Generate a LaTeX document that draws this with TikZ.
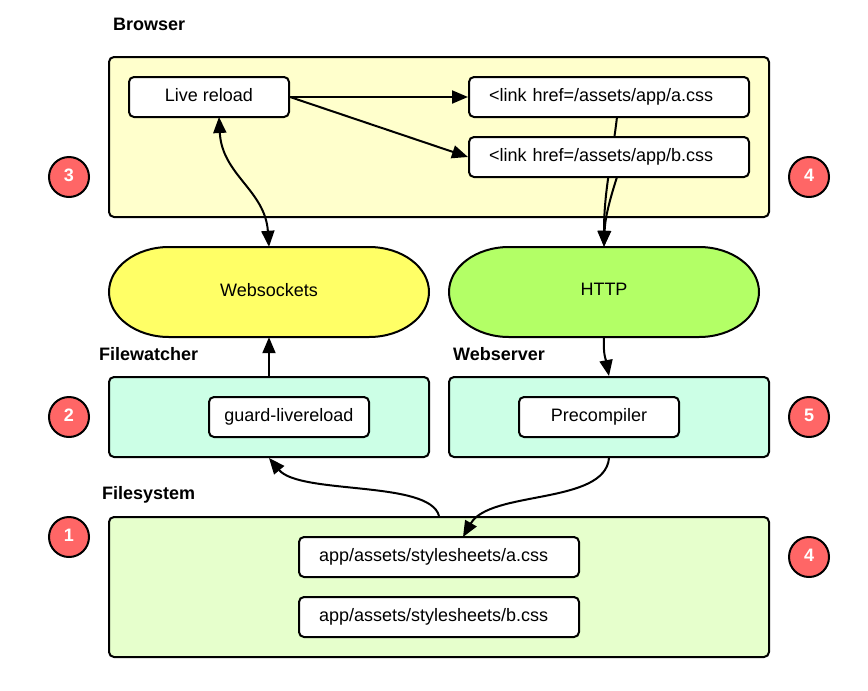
\documentclass[tikz,border=0pt]{standalone}
\usepackage{fontspec}
\setmainfont{Liberation Sans}
\usetikzlibrary{arrows.meta}
\definecolor{browserfill}{HTML}{FFFFCC}
\definecolor{socketfill}{HTML}{FFFF66}
\definecolor{httpfill}{HTML}{B3FF66}
\definecolor{serverfill}{HTML}{CCFFE6}
\definecolor{diskfill}{HTML}{E6FFCC}
\definecolor{badgefill}{HTML}{FF6666}
\newcommand{\pillpath}[3]{
  \draw[line width=2pt,fill=#3] (#1+60,247) -- (#2-60,247)
    arc[start angle=90,end angle=-90,x radius=60pt,y radius=45pt]
    -- (#1+60,337)
    arc[start angle=-90,end angle=-270,x radius=60pt,y radius=45pt] -- cycle;
}
\tikzset{
  panel/.style={draw,line width=2pt,rounded corners=5pt,inner sep=0pt},
  whitebox/.style={panel,fill=white,minimum height=40pt,font=\fontsize{18}{20}\selectfont},
  linkbox/.style={whitebox,text width=240pt,inner xsep=20pt,align=left},
  pill/.style={minimum height=90pt,inner sep=0pt,font=\fontsize{18}{20}\selectfont},
  heading/.style={anchor=west,inner sep=0pt,font=\fontsize{18}{20}\selectfont\bfseries},
  badge/.style={circle,draw,line width=2pt,fill=badgefill,text=white,minimum size=40pt,inner sep=0pt,font=\fontsize{18}{20}\selectfont\bfseries},
  conn/.style={line width=2pt,-{Triangle[length=16pt,width=13pt]}}
}
\begin{document}
\begin{tikzpicture}[x=1pt,y=-1pt]
        \useasboundingbox (0,0) rectangle (868,691);
        % top row
        \node[heading] (browserlabel) at (113,24.5) {Browser};
        \node[panel,fill=browserfill,minimum width=660pt,minimum height=160pt] (browser) at (439,137) {};
        \node[whitebox,minimum width=160pt] (live) at (209,97) {\raisebox{4pt}{Live reload}};
        \node[linkbox] (linka) at (609,97) {\raisebox{4pt}{<link href=/assets/app/a.css}};
        % pills
        \pillpath{109}{429}{socketfill}
        \pillpath{449}{759}{httpfill}
        \node[pill,minimum width=320pt] (sockets) at (269,292) {\raisebox{5pt}{Websockets}};
        \node[pill,minimum width=310pt] (http) at (604,292) {\raisebox{5pt}{HTTP}};
        \coordinate (A) at (617,117);
        \draw[conn] (A) .. controls (612,160) and (604,190) .. (http.north);
        \node[linkbox] (linkb) at (609,157) {\raisebox{4pt}{<link href=/assets/app/b.css}};
        \coordinate (B) at (617,177);
        \draw[conn] (B) .. controls (608,205) and (605,220) .. (http.north);
        \draw[conn] (live.east) -- (linka.west);
        \draw[conn] (live.east) -- (linkb.west);
        \coordinate (L) at (219,117);
        \draw[conn,{Triangle[length=16pt,width=13pt]}-{Triangle[length=16pt,width=13pt]}] (L) .. controls (222,175) and (265,190) .. (sockets.north);
        % middle row
        \node[heading] (watcherlabel) at (99,354) {Filewatcher};
        \node[heading] (serverlabel) at (453,354) {Webserver};
        \node[panel,fill=serverfill,minimum width=320pt,minimum height=80pt] (watcher) at (269,417) {};
        \node[panel,fill=serverfill,minimum width=320pt,minimum height=80pt] (server) at (609,417) {};
        \node[whitebox,minimum width=160pt] (guard) at (289,417) {\raisebox{4pt}{guard-livereload}};
        \node[whitebox,minimum width=160pt] (precompiler) at (599,417) {\raisebox{4pt}{Precompiler}};
        \draw[conn] (watcher.north) -- (sockets.south);
        \draw[conn] (http.south) .. controls (603,355) and (606,360) .. (server.north);
        % bottom row
        \node[heading] (disklabel) at (102,495) {Filesystem};
        \node[panel,fill=diskfill,minimum width=660pt,minimum height=140pt] (disk) at (439,587) {};
        \node[linkbox] (filea) at (439,557) {\raisebox{4pt}{app/assets/stylesheets/a.css}};
        \node[linkbox] (fileb) at (439,617) {\raisebox{4pt}{app/assets/stylesheets/b.css}};
        \coordinate (T) at (463,537);
        \draw[conn] (disk.north) .. controls (430,480) and (300,495) .. (watcher.south);
        \draw[conn] (server.south) .. controls (605,505) and (490,490) .. (T);
        % numbers
        \foreach \x/\y/\u/\n in {69/177/3/three,809/177/4/fourtop,69/417/2/two,809/417/5/five,69/537/1/one,809/557/4/fourbottom}
        \node[badge] (\n) at (\x,\y) {\raisebox{4pt}{\u}};
    \end{tikzpicture}
\end{document}
